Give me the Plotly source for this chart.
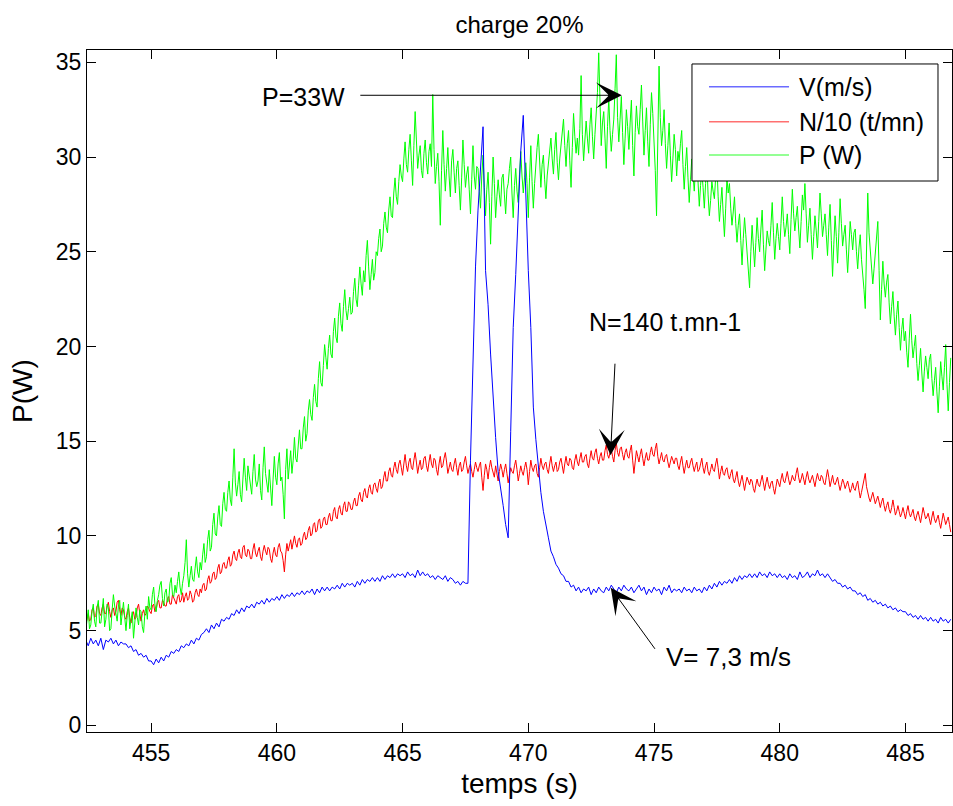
import numpy as np
import plotly.graph_objects as go

# sampling: first sample time (s) and step (s) of each record
t_start = 452.4
dt_pn = 0.05   # P and N/10 records
dt_v = 0.1     # V record

# P (W)
p_w = [
    5.0, 5.7, 6.1, 5.1, 5.3, 6.0, 6.4, 5.5, 5.2, 6.2, 6.6, 5.4,
    5.4, 6.0, 6.7, 5.2, 5.6, 6.4, 6.2, 5.0, 5.1, 6.1, 6.9, 6.3, 5.8, 5.5, 6.3, 6.6, 5.3, 5.9, 6.5, 5.7,
    5.0, 5.8, 6.4, 5.1, 5.5, 6.0, 4.6, 5.4, 6.2, 5.7, 5.3, 6.1, 6.0, 5.2, 4.9, 5.9, 6.3, 5.6, 6.8, 6.2,
    6.1, 6.9, 7.3, 6.4, 6.0, 6.6, 6.9, 7.4, 7.6, 6.7, 6.3, 7.0, 7.2, 6.5, 6.6, 7.5, 7.8, 6.9, 6.8, 7.4,
    7.0, 7.6, 8.1, 7.3, 6.9, 7.5, 7.9, 8.6, 9.8, 8.0, 7.3, 7.9, 8.4, 7.7, 7.6, 8.3, 8.9, 8.1, 7.8, 8.6,
    8.2, 9.0, 9.6, 8.6, 8.9, 9.8, 10.3, 9.2, 9.4, 10.6, 11.2, 10.1, 10.0, 11.0, 11.6, 10.6, 10.5, 11.7, 12.3, 11.4,
    11.3, 12.3, 12.9, 11.9, 11.6, 13.1, 14.6, 12.8, 12.1, 12.7, 13.4, 12.2, 11.8, 13.0, 14.1, 13.1, 12.4, 13.7, 13.2, 12.5,
    12.2, 13.4, 14.3, 13.0, 12.6, 12.9, 13.8, 12.4, 11.9, 13.6, 14.7, 13.3, 12.8, 12.3, 13.5, 12.7, 11.6, 13.0, 14.2, 13.1,
    12.7, 13.8, 14.4, 12.9, 13.1, 12.2, 10.9, 13.5, 14.6, 13.0, 13.8, 14.5, 13.3, 14.0, 15.2, 14.1, 13.9, 14.8, 15.6, 14.6,
    14.6, 15.7, 16.3, 15.0, 15.4, 16.6, 17.2, 16.4, 16.1, 17.3, 18.0, 17.1, 16.8, 18.3, 19.2, 18.1, 17.9, 19.0, 20.1, 19.4,
    18.8, 19.9, 20.6, 19.6, 19.4, 20.8, 21.5, 20.5, 20.2, 21.6, 22.3, 21.2, 20.8, 22.1, 23.0, 21.9, 21.4, 22.0, 22.6, 21.7,
    21.8, 22.9, 23.6, 22.5, 22.1, 23.2, 24.2, 23.3, 22.7, 24.0, 23.4, 24.8, 25.6, 24.2, 23.0, 23.8, 24.6, 23.5, 23.9, 25.0,
    24.8, 25.7, 26.2, 25.0, 25.3, 26.5, 27.1, 26.3, 26.0, 27.2, 27.9, 26.9, 26.8, 28.1, 28.9, 27.9, 27.5, 28.7, 29.6, 29.0,
    28.7, 29.9, 30.8, 29.6, 29.2, 30.4, 31.2, 29.8, 28.5, 30.6, 32.4, 30.9, 29.4, 30.1, 30.6, 29.3, 28.9, 30.2, 30.9, 29.7,
    29.1, 30.3, 30.7, 29.5, 33.3, 30.4, 28.6, 29.5, 30.2, 28.7, 26.4, 29.3, 31.4, 29.6, 28.2, 29.4, 30.5, 29.0, 27.9, 29.8,
    30.4, 29.2, 28.1, 29.4, 29.8, 28.5, 27.2, 28.9, 30.9, 29.6, 28.4, 29.1, 29.5, 28.3, 27.0, 28.8, 30.6, 29.0, 28.3, 29.5,
    29.4, 28.2, 27.3, 29.0, 30.1, 28.4, 26.9, 28.3, 29.2, 27.6, 25.4, 27.9, 30.0, 28.6, 26.8, 27.9, 28.8, 28.0, 27.4, 28.9,
    29.1, 28.0, 27.0, 28.3, 28.6, 29.4, 30.0, 28.1, 26.8, 28.5, 29.4, 28.2, 27.6, 29.1, 30.3, 29.0, 28.1, 28.9, 29.7, 28.6,
    26.8, 28.9, 30.6, 28.7, 27.3, 28.6, 29.8, 30.5, 31.2, 29.4, 28.4, 29.6, 30.1, 28.8, 27.8, 29.0, 29.6, 30.3, 31.0, 29.9,
    29.1, 30.4, 31.3, 29.7, 28.8, 29.9, 30.6, 31.4, 32.0, 30.6, 29.5, 30.7, 31.4, 29.8, 28.4, 30.5, 32.3, 31.1, 30.2, 31.0,
    30.1, 31.5, 34.3, 31.2, 29.8, 30.9, 31.9, 31.0, 30.2, 31.7, 32.6, 31.1, 29.9, 31.2, 32.3, 33.4, 35.5, 32.0, 30.6, 31.8,
    32.4, 31.0, 29.4, 31.6, 33.1, 31.4, 30.3, 31.2, 32.0, 33.6, 35.4, 32.1, 30.8, 32.0, 33.2, 31.3, 29.6, 31.0, 32.5, 31.6,
    30.4, 31.8, 33.0, 30.6, 29.0, 31.3, 32.7, 31.6, 31.2, 32.5, 33.8, 31.9, 30.1, 31.4, 32.6, 30.8, 29.5, 31.7, 33.4, 32.3,
    31.0, 29.3, 26.9, 30.8, 34.8, 32.1, 30.6, 31.4, 32.5, 30.7, 29.4, 30.6, 31.8, 30.1, 28.7, 29.9, 31.2, 30.4, 29.0, 30.3,
    29.8, 30.7, 31.4, 29.6, 28.3, 29.5, 30.5, 28.9, 27.6, 28.8, 29.9, 29.1, 28.2, 29.4, 30.6, 28.7, 27.4, 28.5, 29.3, 28.4,
    27.3, 28.6, 29.8, 28.0, 26.9, 27.7, 28.7, 28.2, 27.8, 28.9, 29.6, 27.9, 26.6, 27.5, 28.4, 27.0, 25.8, 27.3, 28.9, 28.1,
    28.6, 27.3, 26.4, 27.1, 27.9, 26.5, 25.5, 26.4, 27.0, 25.6, 24.3, 25.7, 26.8, 25.9, 25.0, 24.2, 23.1, 25.0, 26.4, 25.3,
    24.2, 25.5, 26.8, 25.7, 25.0, 26.2, 27.2, 25.4, 24.0, 25.1, 26.1, 25.6, 25.3, 26.4, 27.6, 26.0, 24.6, 25.7, 26.5, 25.8,
    25.1, 26.5, 27.9, 26.6, 25.8, 26.3, 27.0, 25.9, 24.9, 26.7, 28.3, 27.0, 26.1, 26.8, 27.4, 26.2, 25.2, 26.6, 28.0, 27.2,
    28.6, 27.0, 25.5, 26.4, 27.3, 25.9, 24.6, 25.8, 26.9, 26.1, 25.2, 26.6, 28.1, 27.0, 25.8, 26.4, 27.0, 25.9, 24.8, 26.3,
    27.5, 25.6, 23.7, 25.4, 26.9, 25.8, 24.4, 26.0, 27.8, 26.5, 25.3, 25.9, 26.4, 25.1, 23.9, 25.2, 26.6, 25.9, 25.1, 26.0,
    26.2, 25.0, 24.1, 25.2, 25.9, 24.6, 23.5, 23.0, 22.0, 25.3, 28.1, 26.0, 25.2, 24.3, 23.3, 24.1, 24.8, 25.9, 26.6, 24.0,
    21.4, 23.0, 24.5, 23.3, 22.6, 23.4, 23.8, 22.3, 21.2, 22.1, 22.9, 21.6, 20.6, 21.7, 22.4, 21.0, 19.8, 20.9, 21.5, 20.3,
    20.8, 19.7, 18.9, 20.4, 21.7, 20.3, 19.4, 20.0, 20.6, 19.1, 18.2, 19.0, 19.9, 18.6, 17.6, 18.7, 19.5, 18.9, 18.3, 19.3,
    19.6, 18.3, 17.4, 18.2, 18.9, 17.6, 16.5, 17.9, 19.2, 18.4, 17.7, 18.9, 20.1, 18.0, 16.6, 18.1, 19.4,
]

# N/10 (t/mn)
n_10 = [
    5.3, 5.7, 5.9, 5.5, 5.6, 6.1, 6.2, 5.7, 5.8, 6.3, 6.4, 5.9,
    5.8, 6.2, 6.4, 5.9, 5.9, 6.3, 6.5, 6.0, 5.7, 6.1, 6.2, 5.8, 6.0, 6.5, 6.6, 6.1, 5.8, 6.2, 6.1, 5.7,
    5.6, 6.0, 6.2, 5.7, 5.4, 5.8, 6.0, 5.6, 5.7, 6.2, 6.4, 5.9, 5.5, 5.9, 6.1, 5.8, 5.9, 6.3, 6.2, 6.0,
    5.9, 6.3, 6.4, 6.0, 6.1, 6.5, 6.6, 6.2, 6.2, 6.6, 6.5, 6.3, 6.3, 6.7, 6.8, 6.4, 6.4, 6.9, 6.7, 6.5,
    6.4, 6.8, 6.9, 6.5, 6.6, 7.0, 6.5, 6.8, 7.0, 6.6, 6.7, 7.1, 6.9, 6.5, 6.6, 7.0, 7.2, 6.9, 6.8, 7.2,
    7.0, 7.4, 7.5, 7.1, 7.2, 7.7, 7.9, 7.5, 7.6, 8.0, 8.1, 7.7, 7.8, 8.3, 8.5, 8.0, 8.1, 8.5, 8.6, 8.3,
    8.3, 8.7, 8.9, 8.4, 8.5, 9.0, 9.2, 8.8, 8.7, 9.1, 9.3, 8.9, 8.8, 9.4, 9.5, 9.0, 8.9, 9.3, 9.2, 8.8,
    8.8, 9.3, 9.6, 9.1, 8.9, 9.2, 9.4, 8.9, 8.7, 9.2, 9.5, 9.2, 9.0, 9.4, 9.3, 8.8, 8.6, 9.1, 9.4, 9.0,
    8.9, 9.4, 9.6, 9.2, 9.1, 8.7, 8.1, 9.0, 9.6, 9.2, 9.5, 9.8, 9.3, 9.6, 10.0, 9.6, 9.4, 9.8, 9.9, 9.5,
    9.6, 10.0, 10.2, 9.8, 9.9, 10.3, 10.5, 10.0, 10.1, 10.6, 10.7, 10.2, 10.3, 10.8, 10.9, 10.4, 10.5, 10.9, 11.0, 10.6,
    10.6, 11.0, 11.2, 10.8, 10.8, 11.3, 11.5, 11.0, 10.9, 11.4, 11.6, 11.2, 11.1, 11.6, 11.8, 11.3, 11.3, 11.8, 11.7, 11.4,
    11.4, 11.8, 12.0, 11.6, 11.6, 12.1, 12.3, 11.9, 11.8, 12.3, 12.5, 12.1, 12.0, 12.5, 12.7, 12.3, 12.2, 12.7, 12.8, 12.5,
    12.3, 12.8, 13.0, 12.5, 12.6, 13.1, 13.4, 12.9, 12.9, 13.4, 13.6, 13.2, 13.1, 13.6, 13.9, 13.5, 13.3, 13.8, 14.0, 13.6,
    13.2, 13.8, 14.3, 13.7, 13.4, 13.9, 14.1, 13.6, 13.5, 14.0, 14.4, 13.9, 13.3, 13.7, 14.0, 13.5, 13.6, 14.1, 14.2, 13.7,
    13.4, 13.9, 14.3, 13.8, 13.6, 14.1, 14.0, 13.5, 13.2, 13.8, 14.2, 13.6, 13.7, 14.1, 14.4, 13.9, 13.3, 13.6, 13.9, 13.5,
    13.4, 13.8, 14.1, 13.6, 13.2, 13.7, 13.9, 13.4, 13.5, 13.9, 14.2, 13.7, 13.3, 13.6, 13.8, 13.4, 13.1, 13.5, 13.9, 13.6,
    13.4, 13.7, 13.9, 13.1, 12.4, 13.2, 13.8, 13.5, 13.0, 13.6, 14.0, 13.6, 13.4, 13.1, 13.7, 13.3, 12.9, 13.4, 13.8, 13.5,
    13.1, 13.5, 13.8, 13.3, 12.8, 13.2, 13.6, 13.4, 13.3, 13.7, 14.0, 13.5, 12.9, 13.3, 13.7, 13.4, 13.2, 13.6, 13.9, 13.5,
    12.7, 13.4, 14.0, 13.6, 13.4, 13.7, 13.8, 13.3, 13.1, 13.6, 14.1, 13.7, 13.5, 13.8, 13.9, 13.5, 13.3, 13.8, 14.2, 13.7,
    13.4, 13.7, 13.9, 13.4, 13.5, 13.9, 14.1, 13.7, 13.3, 13.8, 14.2, 13.8, 13.7, 14.1, 14.0, 13.6, 13.5, 14.0, 14.3, 13.9,
    13.7, 14.1, 14.4, 13.9, 13.9, 14.2, 14.3, 13.8, 13.6, 14.1, 14.5, 14.1, 14.0, 14.4, 14.6, 14.1, 13.8, 14.2, 14.4, 14.0,
    14.0, 14.5, 14.8, 14.3, 14.1, 14.4, 14.6, 14.2, 13.9, 14.5, 14.9, 14.4, 14.2, 14.6, 14.7, 14.3, 14.0, 14.4, 14.6, 14.2,
    14.1, 14.5, 14.8, 14.0, 13.3, 13.9, 14.5, 14.2, 13.9, 14.3, 14.6, 14.1, 13.7, 14.1, 14.4, 14.0, 14.0, 14.4, 14.7, 14.3,
    14.2, 14.6, 14.9, 14.2, 13.8, 14.1, 14.4, 14.0, 13.9, 14.2, 14.3, 13.9, 13.6, 13.9, 14.2, 14.0, 13.8, 14.1, 14.1, 13.7,
    13.5, 13.9, 14.2, 13.7, 13.3, 13.7, 14.0, 13.6, 13.6, 13.9, 14.1, 13.7, 13.4, 13.7, 13.9, 13.4, 13.5, 13.8, 14.1, 13.6,
    13.3, 13.7, 13.9, 13.4, 13.2, 13.5, 13.8, 13.5, 13.4, 13.8, 14.1, 13.6, 13.0, 13.4, 13.7, 13.3, 13.2, 13.5, 13.6, 13.2,
    13.0, 13.3, 13.5, 13.0, 12.8, 13.1, 13.4, 12.9, 12.6, 12.9, 13.2, 12.8, 12.4, 12.8, 13.1, 12.9, 12.7, 13.0, 12.9, 12.5,
    12.3, 12.7, 13.0, 12.7, 12.6, 12.9, 13.2, 12.8, 12.4, 12.8, 13.1, 12.7, 12.5, 12.8, 12.9, 12.5, 12.2, 12.6, 13.0, 12.8,
    12.6, 13.0, 13.3, 12.9, 12.8, 13.1, 13.4, 13.0, 12.7, 12.9, 13.2, 13.0, 12.9, 13.3, 13.6, 13.1, 12.8, 13.0, 13.3, 13.0,
    12.7, 13.1, 13.4, 13.0, 12.8, 13.0, 13.2, 12.9, 12.6, 13.0, 13.3, 13.0, 12.9, 13.2, 13.1, 12.8, 12.7, 13.1, 13.5, 13.1,
    12.6, 12.9, 13.2, 12.8, 12.7, 12.9, 13.1, 12.7, 12.4, 12.7, 13.0, 12.8, 12.5, 12.7, 12.9, 12.6, 12.3, 12.5, 12.8, 12.5,
    12.4, 12.7, 12.9, 12.4, 12.0, 12.3, 12.6, 12.9, 13.3, 12.6, 12.2, 12.0, 11.8, 12.1, 12.3, 12.0, 11.7, 11.9, 12.1, 11.8,
    11.5, 11.8, 12.0, 11.6, 11.3, 11.6, 11.8, 11.4, 11.2, 11.5, 11.9, 11.5, 11.1, 11.3, 11.6, 11.3, 11.0, 11.2, 11.5, 11.2,
    10.9, 11.3, 11.6, 11.2, 11.0, 11.2, 11.4, 11.0, 10.8, 11.1, 11.3, 11.0, 10.7, 11.1, 11.5, 11.2, 10.9, 11.0, 11.2, 10.9,
    10.6, 11.0, 11.3, 10.9, 10.7, 10.9, 11.1, 10.7, 10.4, 10.8, 11.2, 10.9, 10.6, 10.8, 11.0, 10.6, 10.2,
]

# V (m/s)
v_ms = [
    4.5, 4.2, 4.6, 4.3, 4.5, 4.2,
    4.6, 4.0, 4.5, 4.4, 4.6, 4.3, 4.5, 4.2, 4.4, 4.3,
    4.3, 4.1, 4.2, 3.9, 4.0, 3.7, 3.8, 3.6, 3.7, 3.4,
    3.4, 3.2, 3.5, 3.3, 3.6, 3.4, 3.7, 3.6, 3.9, 3.8,
    4.0, 3.9, 4.2, 4.1, 4.3, 4.2, 4.5, 4.3, 4.6, 4.5,
    4.8, 4.9, 5.1, 4.9, 5.3, 5.1, 5.4, 5.2, 5.6, 5.5,
    5.7, 5.6, 5.9, 5.8, 6.1, 5.9, 6.2, 6.0, 6.3, 6.2,
    6.4, 6.2, 6.5, 6.4, 6.6, 6.4, 6.7, 6.5, 6.7, 6.6,
    6.8, 6.6, 6.9, 6.7, 6.9, 6.8, 7.0, 6.8, 7.0, 6.9,
    7.1, 6.9, 7.1, 7.0, 7.2, 6.9, 7.2, 7.0, 7.3, 7.1,
    7.3, 7.1, 7.3, 7.2, 7.4, 7.2, 7.5, 7.3, 7.5, 7.4,
    7.5, 7.3, 7.6, 7.4, 7.7, 7.5, 7.7, 7.6, 7.8, 7.6,
    7.8, 7.6, 7.9, 7.7, 7.9, 7.8, 8.0, 7.8, 8.0, 7.9,
    8.0, 7.8, 8.1, 7.9, 8.0, 7.8, 8.2, 7.9, 8.1, 7.9,
    8.0, 7.8, 7.9, 7.7, 7.9, 7.8, 7.7, 7.9, 7.6, 7.8,
    7.7, 7.5, 7.6, 7.4, 7.6, 7.5, 7.5, 14.0, 19.6, 24.2,
    27.2, 29.5, 31.6, 24.0, 22.2, 19.6, 17.3, 15.2, 13.4, 12.6,
    11.6, 10.6, 9.9, 15.5, 21.0, 23.8, 27.6, 30.3, 32.2, 28.0,
    24.0, 21.0, 16.8, 15.1, 13.6, 12.3, 11.3, 10.5, 9.9, 9.2,
    8.9, 8.5, 8.3, 8.0, 7.9, 7.6, 7.6, 7.3, 7.4, 7.1,
    7.3, 7.0, 7.2, 7.1, 7.3, 6.9, 7.2, 7.0, 7.3, 7.1,
    7.0, 7.3, 7.1, 7.4, 7.2, 7.0, 7.3, 7.1, 7.4, 7.2,
    7.1, 7.3, 7.0, 7.2, 7.4, 7.1, 7.3, 6.9, 7.2, 7.0,
    7.3, 7.1, 7.2, 6.9, 7.3, 7.1, 7.4, 7.0, 7.2, 7.1,
    7.2, 7.0, 7.3, 7.1, 7.2, 7.0, 7.3, 7.1, 7.2, 7.0,
    7.3, 7.1, 7.4, 7.2, 7.5, 7.3, 7.6, 7.4, 7.6, 7.5,
    7.7, 7.5, 7.8, 7.6, 7.9, 7.7, 7.9, 7.8, 8.0, 7.8,
    8.0, 7.8, 8.1, 7.9, 8.0, 7.8, 8.1, 7.9, 8.0, 7.8,
    8.0, 7.8, 7.9, 7.7, 8.0, 7.8, 7.9, 7.7, 8.1, 7.8,
    7.9, 8.1, 7.8, 8.0, 7.9, 8.2, 7.9, 8.0, 7.8, 8.0,
    7.8, 7.6, 7.7, 7.5, 7.5, 7.3, 7.4, 7.2, 7.3, 7.1,
    7.1, 6.9, 7.0, 6.8, 6.9, 6.6, 6.7, 6.5, 6.6, 6.4,
    6.5, 6.3, 6.4, 6.2, 6.3, 6.1, 6.2, 6.0, 6.1, 6.0,
    6.0, 5.8, 5.9, 5.7, 5.8, 5.6, 5.8, 5.6, 5.7, 5.5,
    5.7, 5.5, 5.6, 5.4, 5.7, 5.5, 5.6, 5.4, 5.6,
]

series_names = ["V(m/s)", "N/10 (t/mn)", "P (W)"]
series_colors = ["#0000ff", "#ff0000", "#00ff00"]
legend_colors = ["#6b6bff", "#ff7070", "#70ff70"]
title_text = "charge 20%"
x_title = "temps (s)"
y_title = "P(W)"
x_ticks = [455, 460, 465, 470, 475, 480, 485]
y_ticks = [0, 5, 10, 15, 20, 25, 30, 35]

t_pn = t_start + dt_pn * np.arange(len(p_w))
t_v = t_start + dt_v * np.arange(len(v_ms))

FONT = "Liberation Sans, Arial, Helvetica, sans-serif"

fig = go.Figure()
fig.add_trace(go.Scatter(x=t_pn, y=n_10, mode="lines", name=series_names[1],
                         line=dict(color=series_colors[1], width=1)))
fig.add_trace(go.Scatter(x=t_pn, y=p_w, mode="lines", name=series_names[2],
                         line=dict(color=series_colors[2], width=1)))
fig.add_trace(go.Scatter(x=t_v, y=v_ms, mode="lines", name=series_names[0],
                         line=dict(color=series_colors[0], width=1)))

# text labels
labels = [
    dict(x=461.07, y=33.16, text="P=33W", size=25),
    dict(x=475.44, y=21.28, text="N=140 t.mn-1", size=25),
    dict(x=477.98, y=3.59, text="V= 7,3 m/s", size=26),
]
for lab in labels:
    fig.add_annotation(x=lab["x"], y=lab["y"], text=lab["text"], showarrow=False,
                       font=dict(family=FONT, size=lab["size"], color="black"),
                       xanchor="center", yanchor="middle")

# arrows (tail -> tip) in data coordinates
arrows = [
    ((463.26, 33.26), (473.72, 33.26)),
    ((473.45, 19.17), (473.27, 14.26)),
    ((475.08, 3.96), (473.28, 7.26)),
]
for (tx, ty), (hx, hy) in arrows:
    fig.add_annotation(x=hx, y=hy, ax=tx, ay=ty, xref="x", yref="y",
                       axref="x", ayref="y", text="", showarrow=True,
                       arrowhead=3, arrowsize=4.3, arrowwidth=1,
                       arrowcolor="black", standoff=0, startstandoff=0)

# legend box (drawn as in the original figure, paper coordinates)
box = dict(x0=0.6994, x1=0.9838, y0=0.8079, y1=0.9795)
row_y = [0.9462, 0.8949, 0.8460]
line_x = (0.7191, 0.8116)
text_x = 0.8208
fig.add_shape(type="rect", xref="paper", yref="paper", layer="above",
              x0=box["x0"], x1=box["x1"], y0=box["y0"], y1=box["y1"],
              fillcolor="white", line=dict(color="black", width=1))
for name, col, ry in zip(series_names, legend_colors, row_y):
    fig.add_shape(type="line", xref="paper", yref="paper", layer="above",
                  x0=line_x[0], x1=line_x[1], y0=ry, y1=ry,
                  line=dict(color=col, width=1.5))
    fig.add_annotation(xref="paper", yref="paper", x=text_x, y=ry, text=name,
                       showarrow=False, xanchor="left", yanchor="middle",
                       font=dict(family=FONT, size=25, color="black"))

fig.update_layout(
    width=953, height=806,
    margin=dict(l=87, r=1, t=50, b=74),
    paper_bgcolor="white", plot_bgcolor="white",
    font=dict(family=FONT, size=23, color="black"),
    title=dict(text=title_text, xref="paper", x=0.5, xanchor="center",
               yref="container", y=1 - 25 / 806, yanchor="middle",
               font=dict(size=24)),
    showlegend=False,
)
fig.update_xaxes(
    range=[452.45, 486.85], tickvals=x_ticks, ticks="inside", ticklen=9,
    tickcolor="black", showline=True, linecolor="black", linewidth=1,
    mirror="ticks", showgrid=False, zeroline=False,
    title=dict(text=x_title, standoff=8),
)
fig.update_yaxes(
    range=[-0.35, 35.65], tickvals=y_ticks, ticks="inside", ticklen=9,
    tickcolor="black", showline=True, linecolor="black", linewidth=1,
    mirror="ticks", showgrid=False, zeroline=False,
    title=dict(text=y_title, standoff=15),
)

fig.write_html("out.html")
